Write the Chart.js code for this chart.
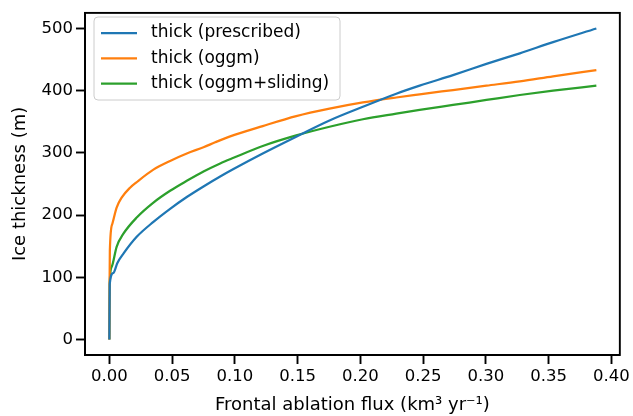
<!DOCTYPE html>
<html>
<head>
<meta charset="utf-8">
<script src="https://cdn.jsdelivr.net/npm/chart.js@4"></script>
<style>
  html, body { margin: 0; padding: 0; background: #fff; }
  #wrap { width: 633px; height: 416px; }
</style>
</head>
<body>
<div id="wrap"><canvas id="chart" width="633" height="416"></canvas></div>
<script>
const labels = ["thick (prescribed)", "thick (oggm)", "thick (oggm+sliding)"];
const colors = ["#1f77b4", "#ff7f0e", "#2ca02c"];

// flux (km3 yr-1) and thickness (m)
const prescribedX = [0, 0.0003, 0.0032, 0.0064, 0.0112, 0.0218, 0.0351, 0.0484, 0.0617, 0.075, 0.0883, 0.0989, 0.1222, 0.1489, 0.1754, 0.202, 0.2286, 0.2472, 0.2738, 0.3004, 0.327, 0.3535, 0.388];
const prescribedY = [0, 89, 107, 123, 138, 165, 189, 210, 229, 246, 262, 274, 299, 326, 352, 374, 395, 408, 425, 443, 460, 478, 500];

const oggmX = [0, 0.0002, 0.0004, 0.0024, 0.0058, 0.0098, 0.0165, 0.0218, 0.0351, 0.0484, 0.0617, 0.075, 0.0843, 0.0957, 0.1222, 0.1489, 0.1754, 0.202, 0.2286, 0.2472, 0.2738, 0.3004, 0.327, 0.3535, 0.388];
const oggmY = [0, 95, 143, 186, 212, 228, 244, 253, 273, 287, 299, 309, 317, 326, 343, 359, 371, 381, 389, 394, 401, 408, 415, 423, 433];

const slidingX = [0, 0.0003, 0.0019, 0.0058, 0.0112, 0.0218, 0.0351, 0.0484, 0.0617, 0.075, 0.0883, 0.0989, 0.1222, 0.1489, 0.1754, 0.202, 0.2286, 0.2472, 0.2738, 0.3004, 0.327, 0.3535, 0.388];
const slidingY = [0, 91, 117, 149, 170, 196, 220, 239, 255, 270, 283, 292, 311, 328, 342, 354, 363, 369, 377, 385, 393, 400, 408];

const xTicks = [0, 0.05, 0.1, 0.15, 0.2, 0.25, 0.3, 0.35, 0.4];
const yTicks = [0, 100, 200, 300, 400, 500];

const FONT = "DejaVu Sans";

const toPoints = (xs, ys) => xs.map((x, i) => ({ x: x, y: ys[i] }));

const makeSet = (i, xs, ys) => ({
  label: labels[i],
  data: toPoints(xs, ys),
  borderColor: colors[i],
  backgroundColor: colors[i],
  borderWidth: 2.25,
  pointRadius: 0,
  fill: false,
  cubicInterpolationMode: "monotone",
});

// box around the axes plus a matplotlib style legend in the upper left
const framePlugin = {
  id: "frame",
  afterDraw(chart) {
    const { ctx, chartArea: a } = chart;
    ctx.save();
    ctx.strokeStyle = "#000";
    ctx.lineWidth = 1.9;
    ctx.strokeRect(a.left, a.top, a.right - a.left, a.bottom - a.top);

    const bx = 94, by = 17, bw = 246, bh = 83, r = 4;
    ctx.beginPath();
    ctx.moveTo(bx + r, by);
    ctx.arcTo(bx + bw, by, bx + bw, by + bh, r);
    ctx.arcTo(bx + bw, by + bh, bx, by + bh, r);
    ctx.arcTo(bx, by + bh, bx, by, r);
    ctx.arcTo(bx, by, bx + bw, by, r);
    ctx.closePath();
    ctx.fillStyle = "rgba(255,255,255,0.8)";
    ctx.fill();
    ctx.strokeStyle = "#cccccc";
    ctx.lineWidth = 1;
    ctx.stroke();

    ctx.font = "17px '" + FONT + "'";
    ctx.textBaseline = "middle";
    ctx.fillStyle = "#000";
    chart.data.datasets.forEach((ds, i) => {
      const y = 33 + i * 25.3;
      ctx.strokeStyle = ds.borderColor;
      ctx.lineWidth = 2.25;
      ctx.beginPath();
      ctx.moveTo(101, y);
      ctx.lineTo(137, y);
      ctx.stroke();
      ctx.fillText(ds.label, 151, y);
    });
    ctx.restore();
  },
};

new Chart(document.getElementById("chart"), {
  type: "line",
  data: {
    datasets: [
      makeSet(0, prescribedX, prescribedY),
      makeSet(1, oggmX, oggmY),
      makeSet(2, slidingX, slidingY),
    ],
  },
  options: {
    responsive: false,
    animation: false,
    layout: { padding: { top: 9, right: 13, left: 0, bottom: 0 } },
    plugins: {
      legend: { display: false },
      tooltip: { enabled: false },
    },
    scales: {
      x: {
        type: "linear",
        min: -0.0194,
        max: 0.4067,
        afterBuildTicks: (s) => { s.ticks = xTicks.map((v) => ({ value: v })); },
        afterFit: (s) => { s.height = 61; },
        ticks: {
          color: "#000",
          font: { family: FONT, size: 16.5 },
          padding: 3,
          maxRotation: 0,
          callback: (v) => v.toFixed(2),
        },
        grid: { drawOnChartArea: false, tickLength: 9, tickColor: "#000", tickWidth: 1.9 },
        border: { color: "#000", width: 1.9 },
        title: {
          display: true,
          text: "Frontal ablation flux (km\u00b3 yr\u207b\u00b9)",
          color: "#000",
          font: { family: FONT, size: 18 },
          padding: { top: 2, bottom: 0 },
        },
      },
      y: {
        type: "linear",
        min: -25,
        max: 525,
        afterBuildTicks: (s) => { s.ticks = yTicks.map((v) => ({ value: v })); },
        afterFit: (s) => { s.width = 85; },
        ticks: {
          color: "#000",
          font: { family: FONT, size: 16.5 },
          padding: 3,
          callback: (v) => String(v),
        },
        grid: { drawOnChartArea: false, tickLength: 9, tickColor: "#000", tickWidth: 1.9 },
        border: { color: "#000", width: 1.9 },
        title: {
          display: true,
          text: "Ice thickness (m)",
          color: "#000",
          font: { family: FONT, size: 18 },
          padding: { top: 10, bottom: 4 },
        },
      },
    },
  },
  plugins: [framePlugin],
});
</script>
</body>
</html>
